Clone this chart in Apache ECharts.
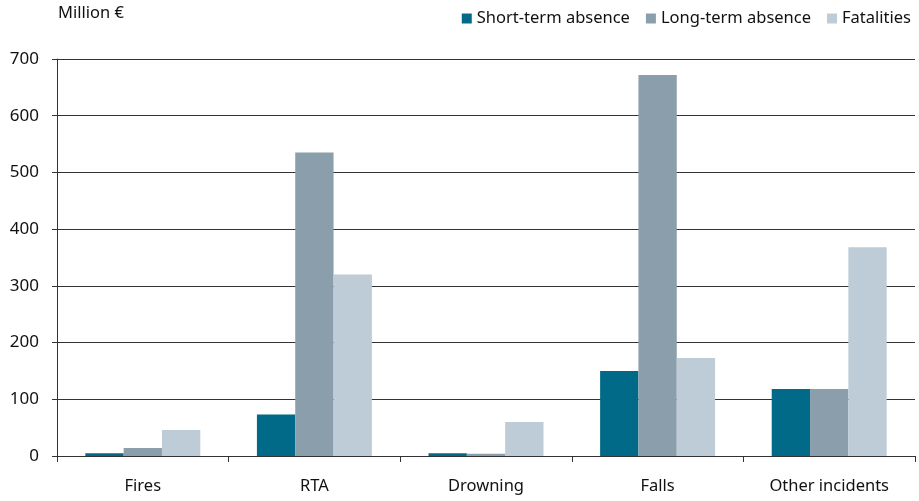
<!DOCTYPE html>
<html>
<head>
<meta charset="utf-8">
<script src="https://cdn.jsdelivr.net/npm/echarts@6/dist/echarts.min.js"></script>
<style>
  html, body { margin: 0; padding: 0; background: #fff; }
  #chart { width: 919px; height: 501px; }
</style>
</head>
<body>
<div id="chart"></div>
<script>
const categories = ["Fires", "RTA", "Drowning", "Falls", "Other incidents"];
const shortTerm = [5, 73, 5, 150, 118];
const longTerm = [14, 535, 4, 672, 118];
const fatalities = [46, 320, 60, 173, 368];

const fontFamily = "'Noto Sans', sans-serif";
const textColor = "#111";

const chart = echarts.init(document.getElementById("chart"));

function barSeries(name, color, data) {
  return {
    name,
    type: "bar",
    data,
    barGap: "0%",
    barCategoryGap: "33%",
    itemStyle: { color },
    emphasis: { disabled: true }
  };
}

chart.setOption({
  animation: false,
  textStyle: { fontFamily },
  grid: {
    left: 57,
    right: 4,
    top: 59,
    bottom: 45
  },
  graphic: [
    {
      type: "text",
      left: 58,
      top: 5,
      style: {
        text: "Million €",
        font: `16.5px ${fontFamily}`,
        fill: textColor
      }
    }
  ],
  legend: {
    right: 3,
    top: 5,
    itemWidth: 10,
    itemHeight: 10,
    itemGap: 16,
    icon: "rect",
    textStyle: { fontSize: 16.5, color: textColor, fontFamily }
  },
  xAxis: {
    type: "category",
    data: categories,
    axisLine: { lineStyle: { color: "#333", width: 1 } },
    axisTick: { show: true, length: 6, lineStyle: { color: "#333" } },
    axisLabel: { margin: 22, fontSize: 16.5, color: textColor, fontFamily }
  },
  yAxis: {
    type: "value",
    min: 0,
    max: 700,
    interval: 100,
    axisLine: { show: true, lineStyle: { color: "#333", width: 1 } },
    axisTick: { show: true, length: 5, lineStyle: { color: "#333" } },
    splitLine: { lineStyle: { color: "#333", width: 1 } },
    axisLabel: { margin: 18, fontSize: 17, color: textColor, fontFamily }
  },
  series: [
    barSeries("Short-term absence", "#006a88", shortTerm),
    barSeries("Long-term absence", "#8a9fab", longTerm),
    barSeries("Fatalities", "#bdccd6", fatalities)
  ]
});
</script>
</body>
</html>
